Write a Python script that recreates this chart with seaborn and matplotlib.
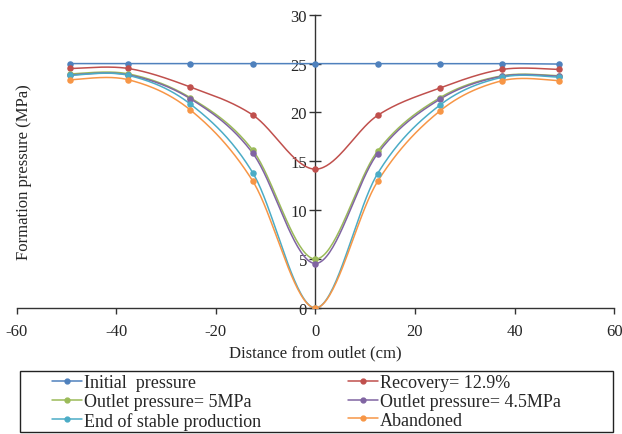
import numpy as np
import pandas as pd
import matplotlib
matplotlib.use('Agg')
import matplotlib.pyplot as plt
from matplotlib.lines import Line2D
from matplotlib.patches import Rectangle
import seaborn as sns

# Data
distance = [-49.2, -37.6, -25.1, -12.6, 0, 12.5, 25, 37.5, 49]
initial = [25.0, 25.0, 25.0, 25.0, 25.0, 25.0, 25.0, 25.0, 24.95]
recovery = [24.5, 24.5, 22.6, 19.75, 14.2, 19.7, 22.5, 24.4, 24.4]
outlet_5 = [23.95, 23.95, 21.5, 16.15, 5.0, 16.05, 21.5, 23.75, 23.75]
outlet_45 = [23.85, 23.85, 21.4, 15.85, 4.55, 15.8, 21.35, 23.7, 23.7]
stable_end = [23.8, 23.8, 20.85, 13.85, 0.0, 13.75, 20.75, 23.6, 23.6]
abandoned = [23.35, 23.35, 20.25, 13.0, 0.0, 12.95, 20.15, 23.25, 23.25]

labels = ['Initial  pressure', 'Recovery= 12.9%', 'Outlet pressure= 5MPa',
          'Outlet pressure= 4.5MPa', 'End of stable production', 'Abandoned']
colors = ['#4F81BD', '#C0504D', '#9BBB59', '#8064A2', '#4BACC6', '#F79646']
series = [initial, recovery, outlet_5, outlet_45, stable_end, abandoned]


def smooth(x, y, n=40):
    # Excel style smoothed line (Catmull-Rom bezier)
    x = np.asarray(x, float)
    y = np.asarray(y, float)
    px = np.concatenate([[x[0]], x, [x[-1]]])
    py = np.concatenate([[y[0]], y, [y[-1]]])
    t = np.linspace(0, 1, n)
    xs, ys = [], []
    for i in range(1, len(px) - 2):
        p0 = np.array([px[i], py[i]])
        p3 = np.array([px[i + 1], py[i + 1]])
        p1 = p0 + (np.array([px[i + 1], py[i + 1]]) - np.array([px[i - 1], py[i - 1]])) / 6
        p2 = p3 - (np.array([px[i + 2], py[i + 2]]) - np.array([px[i], py[i]])) / 6
        b = ((1 - t) ** 3)[:, None] * p0 + (3 * (1 - t) ** 2 * t)[:, None] * p1 \
            + (3 * (1 - t) * t ** 2)[:, None] * p2 + (t ** 3)[:, None] * p3
        xs.append(b[:, 0])
        ys.append(b[:, 1])
    return np.concatenate(xs), np.concatenate(ys)


sns.set_style('white')
plt.rcParams['font.family'] = ['Liberation Serif', 'DejaVu Serif']
plt.rcParams['axes.unicode_minus'] = False

fig = plt.figure(figsize=(6.22, 4.35), dpi=100)
ax = fig.add_axes([0.0268, 0.2897, 0.9605, 0.6742])

for vals, col in zip(series, colors):
    sx, sy = smooth(distance, vals)
    curve = pd.DataFrame({'x': sx, 'y': sy})
    sns.lineplot(data=curve, x='x', y='y', sort=False, color=col, lw=1.1, ax=ax)
    pts = pd.DataFrame({'x': distance, 'y': vals})
    sns.scatterplot(data=pts, x='x', y='y', color=col, s=22, edgecolor=col, linewidth=0, ax=ax, zorder=3)

ax.set_xlim(-60, 60)
ax.set_ylim(0, 30)
ax.set_xticks(range(-60, 61, 20))
ax.set_yticks(range(0, 31, 5))
ax.spines['left'].set_position(('data', 0))
ax.spines['top'].set_visible(False)
ax.spines['right'].set_visible(False)
for s in ['left', 'bottom']:
    ax.spines[s].set_color('#333333')
    ax.spines[s].set_linewidth(1.0)
ax.tick_params(axis='y', direction='inout', length=8, width=1, color='#333333', labelsize=12, pad=2, left=True)
ax.tick_params(axis='x', direction='out', length=4, width=1, color='#333333', labelsize=12, pad=6.5, bottom=True)

ax.set_xlabel('Distance from outlet (cm)', fontsize=12, labelpad=4)
ax.set_ylabel('Formation pressure (MPa)', fontsize=12)
ax.yaxis.set_label_coords(0.0255, 0.467)

handles = [Line2D([0], [0], color=c, lw=1.1, marker='o', markersize=3.5) for c in colors]
leg_opts = dict(loc='upper left', frameon=False, fontsize=13, handlelength=1.65,
                handletextpad=0.12, labelspacing=0.1, borderpad=0, borderaxespad=0)
left_leg = fig.legend([handles[i] for i in [0, 2, 4]], [labels[i] for i in [0, 2, 4]],
                      bbox_to_anchor=(52 / 622, 0.1375), **leg_opts)
right_leg = fig.legend([handles[i] for i in [1, 3, 5]], [labels[i] for i in [1, 3, 5]],
                       bbox_to_anchor=(348 / 622, 0.1375), **leg_opts)
fig.patches.append(Rectangle((0.032, 0.0046), 0.9535, 0.1402, transform=fig.transFigure,
                             fill=False, edgecolor='#222222', lw=1.0))

fig.savefig('out.png', dpi=100)
